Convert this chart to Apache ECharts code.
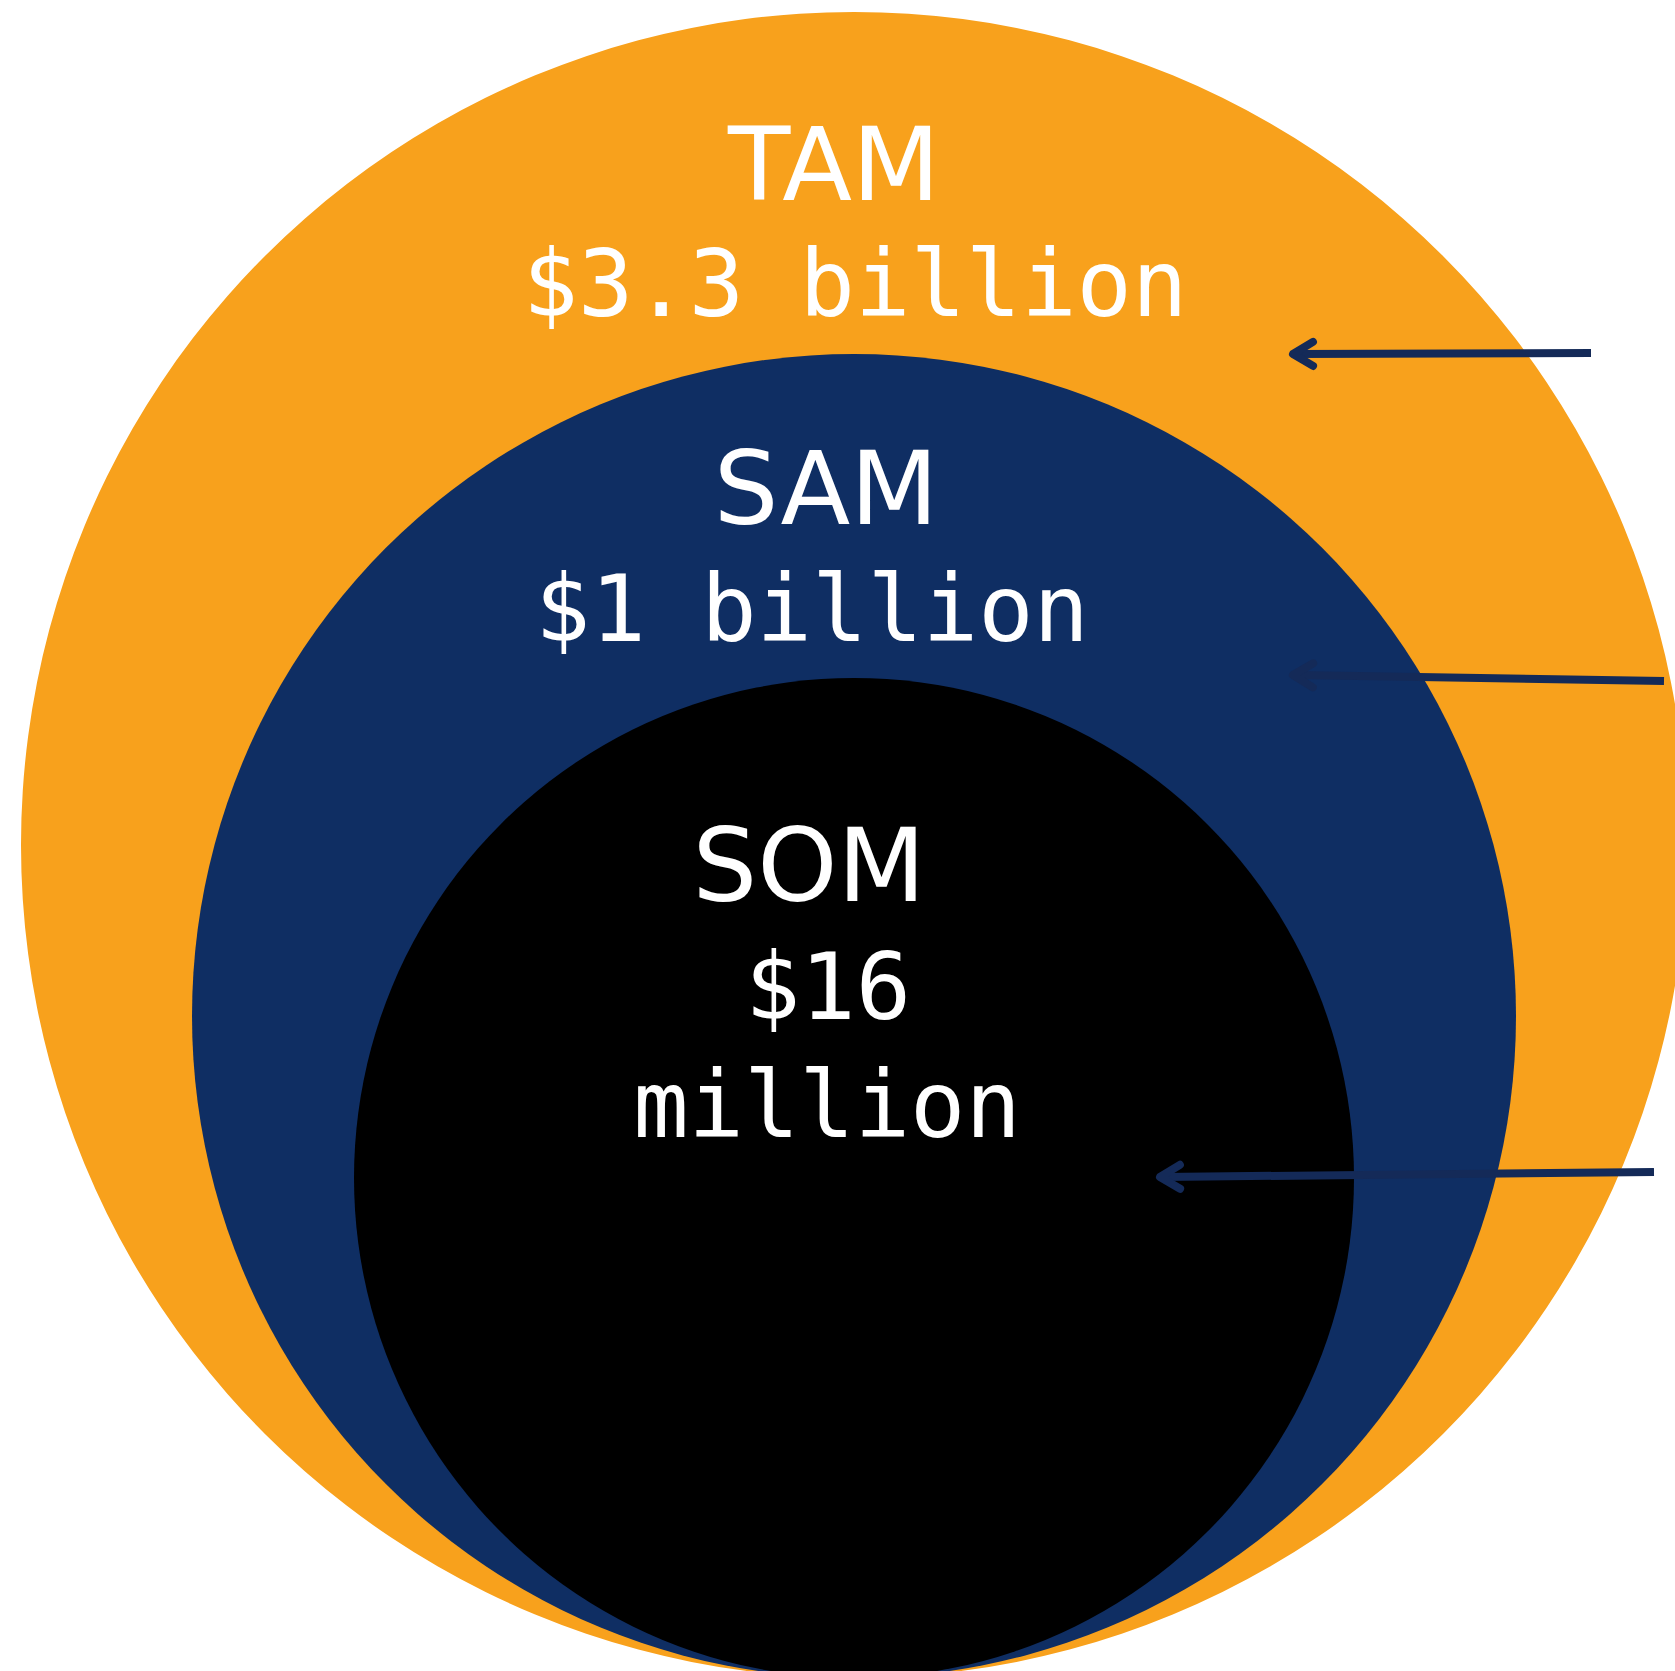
<!DOCTYPE html>
<html><head><meta charset="utf-8">
<script src="https://cdn.jsdelivr.net/npm/echarts@6/dist/echarts.min.js"></script>
<style>html,body{margin:0;padding:0;background:#fff;overflow:hidden}#chart{width:1675px;height:1671px}</style>
</head><body><div id="chart"></div>
<script>
// ---- data ----
const markets = ['TAM', 'SAM', 'SOM'];
const marketValues = [['$3.3 billion'], ['$1 billion'], ['$16', 'million']];
const circleSizes = [833, 662, 500]; // relative circle radii, diagram units

// ---- layout & style (diagram units = pixels of the reference) ----
const W = 1675, H = 1671;
const centerX = 854, bottomY = 1678;
const fillColors = ['#F8A11C', '#0F2E63', '#000000'];
const arrowColor = '#142A58';
const labelPos = [[834, 164], [826, 488], [809, 865]];
const valuePos = [[[855, 284]], [[812, 609]], [[828, 987], [827, 1105]]];
const arrowLines = [[1591, 353, 1293, 354], [1664, 681, 1293, 675], [1654, 1172, 1160, 1177]];

const circleData = circleSizes.map((r, i) => ({ value: [centerX, bottomY - r, r] }));

const textData = [];
markets.forEach((m, i) => {
  textData.push({ value: [labelPos[i][0], labelPos[i][1]], text: m, kind: 'title' });
  marketValues[i].forEach((t, j) => {
    textData.push({ value: [valuePos[i][j][0], valuePos[i][j][1]], text: t, kind: 'value' });
  });
});

const chart = echarts.init(document.getElementById('chart'), null, { renderer: 'svg' });
chart.setOption({
  animation: false,
  backgroundColor: '#ffffff',
  grid: { left: 0, right: 0, top: 0, bottom: 0 },
  xAxis: { type: 'value', min: 0, max: W, show: false },
  yAxis: { type: 'value', min: 0, max: H, inverse: true, show: false },
  series: [
    {
      type: 'custom',
      clip: false,
      data: circleData,
      renderItem: function (params, api) {
        const c = api.coord([api.value(0), api.value(1)]);
        const r = api.size([api.value(2), api.value(2)])[0];
        return {
          type: 'circle',
          shape: { cx: c[0], cy: c[1], r: r },
          style: { fill: fillColors[params.dataIndex] }
        };
      },
      z: 1
    },
    {
      type: 'custom',
      clip: false,
      data: arrowLines.map(a => ({ value: a })),
      renderItem: function (params, api) {
        const p1 = api.coord([api.value(0), api.value(1)]);
        const p2 = api.coord([api.value(2), api.value(3)]);
        const dx = p1[0] - p2[0], dy = p1[1] - p2[1];
        const len = Math.sqrt(dx * dx + dy * dy);
        const ux = dx / len, uy = dy / len;
        const nx = -uy, ny = ux;
        const back = 20, half = 12;
        return {
          type: 'group',
          children: [
            { type: 'line', shape: { x1: p1[0], y1: p1[1], x2: p2[0] + ux * 3, y2: p2[1] + uy * 3 },
              style: { stroke: arrowColor, lineWidth: 8, lineCap: 'butt' } },
            { type: 'polyline', shape: { points: [
                [p2[0] + ux * back + nx * half, p2[1] + uy * back + ny * half],
                [p2[0], p2[1]],
                [p2[0] + ux * back - nx * half, p2[1] + uy * back - ny * half]] },
              style: { stroke: arrowColor, lineWidth: 8, lineCap: 'round', lineJoin: 'round', fill: null } }
          ]
        };
      },
      z: 3
    },
    {
      type: 'custom',
      clip: false,
      data: textData,
      renderItem: function (params, api) {
        const d = textData[params.dataIndex];
        const p = api.coord([api.value(0), api.value(1)]);
        return {
          type: 'text',
          style: {
            text: d.text, x: p[0], y: p[1], fill: '#ffffff',
            font: d.kind === 'title' ? 'normal 102px "DejaVu Sans"' : 'normal 92px "DejaVu Sans Mono"',
            textAlign: 'center', textVerticalAlign: 'middle'
          }
        };
      },
      z: 4
    }
  ]
});
</script>
</body></html>
